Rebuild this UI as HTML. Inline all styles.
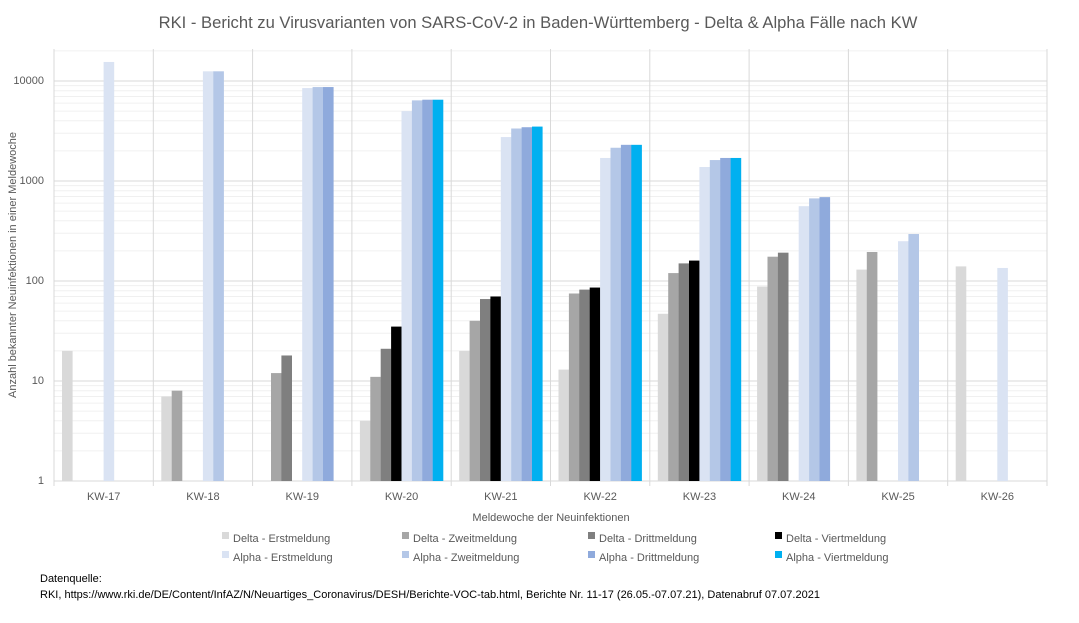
<!DOCTYPE html><html><head><meta charset="utf-8"><style>body{margin:0;background:#fff}svg{display:block;font-family:"Liberation Sans",sans-serif}</style></head><body>
<svg width="1079" height="623" xmlns="http://www.w3.org/2000/svg">
<rect width="1079" height="623" fill="#fff"/>
<text x="538" y="28" text-anchor="middle" font-size="16.6" fill="#595959">RKI - Bericht zu Virusvarianten von SARS-CoV-2 in Baden-Württemberg - Delta &amp; Alpha Fälle nach KW</text>
<g id="grid"></g>
<g id="bars"></g>
<g font-size="11" fill="#595959" text-anchor="end">
<text x="44" y="484">1</text><text x="44" y="384">10</text><text x="44" y="284">100</text><text x="44" y="184">1000</text><text x="44" y="84">10000</text>
</g>
<g id="xl" font-size="11" fill="#595959" text-anchor="middle"></g>
<text x="551" y="521" text-anchor="middle" font-size="11" fill="#595959">Meldewoche der Neuinfektionen</text>
<text transform="translate(16,265) rotate(-90)" text-anchor="middle" font-size="11" fill="#595959">Anzahl bekannter Neuinfektionen in einer Meldewoche</text>
<g id="leg" font-size="11" fill="#595959"></g>
<text x="40" y="582" font-size="11" fill="#000">Datenquelle:</text>
<text x="40" y="598" font-size="11" fill="#000">RKI, https://www.rki.de/DE/Content/InfAZ/N/Neuartiges_Coronavirus/DESH/Berichte-VOC-tab.html, Berichte Nr. 11-17 (26.05.-07.07.21), Datenabruf 07.07.2021</text>
</svg>
<script>
const ns="http://www.w3.org/2000/svg";
function el(p,t,a){const e=document.createElementNS(ns,t);for(const k in a)e.setAttribute(k,a[k]);p.appendChild(e);return e;}
const g=document.getElementById('grid'),b=document.getElementById('bars'),xl=document.getElementById('xl'),lg=document.getElementById('leg');
const L=54,R=1047,T=49,B=481,W=(R-L)/10;
const Y=v=>481-100*Math.log10(v);
for(let d=0;d<5;d++)for(let m=2;m<=9;m++){const y=Y(m*Math.pow(10,d));if(y>=T)el(g,'line',{x1:L,x2:R,y1:y,y2:y,stroke:'#f0f0f0'});}
for(let d=0;d<5;d++){const y=Y(Math.pow(10,d));el(g,'line',{x1:L,x2:R,y1:y,y2:y,stroke:'#d9d9d9'});}
for(let i=0;i<=10;i++){const x=L+i*W;el(g,'line',{x1:x,x2:x,y1:T,y2:B+5,stroke:'#d9d9d9'});}
const C=['#d9d9d9','#a6a6a6','#7f7f7f','#000000','#dae3f3','#b4c7e7','#8faadc','#00b0f0'];
const D=[[20,0,0,0,15500,0,0,0],[7,8,0,0,12500,12500,0,0],[0,12,18,0,8500,8700,8700,0],[4,11,21,35,5000,6400,6500,6500],[20,40,66,70,2750,3350,3450,3500],[13,75,82,86,1700,2150,2300,2300],[47,120,150,160,1380,1620,1700,1700],[88,175,192,0,560,670,690,0],[130,195,0,0,250,295,0,0],[140,0,0,0,135,0,0,0]];
D.forEach((r,i)=>{r.forEach((v,j)=>{if(v>1){const x=L+i*W+8+j*10.4;el(b,'rect',{x:x,y:Y(v),width:10.6,height:B-Y(v),fill:C[j]});}});
 el(xl,'text',{x:L+i*W+W/2,y:500}).textContent='KW-'+(17+i);});
const N=['Delta - Erstmeldung','Delta - Zweitmeldung','Delta - Drittmeldung','Delta - Viertmeldung','Alpha - Erstmeldung','Alpha - Zweitmeldung','Alpha - Drittmeldung','Alpha - Viertmeldung'];
const LX=[233,413,599,786];
N.forEach((n,k)=>{const x=LX[k%4],y=k<4?539:558;el(lg,'rect',{x:x-11,y:y-7,width:7,height:7,fill:C[k]});el(lg,'text',{x:x,y:y+3}).textContent=n;});
</script>
</body></html>
